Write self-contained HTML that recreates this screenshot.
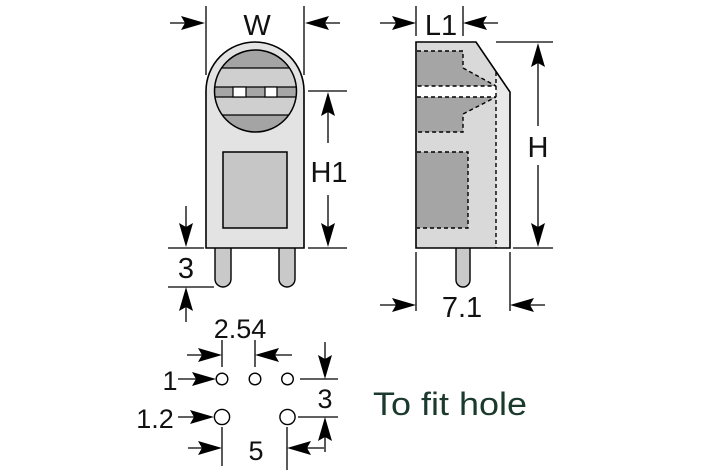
<!DOCTYPE html>
<html><head><meta charset="utf-8"><style>
html,body{margin:0;padding:0;background:#fff;}
svg{display:block;}
text{font-family:"Liberation Sans",sans-serif;fill:#111;}
</style></head><body>
<svg width="709" height="472" viewBox="0 0 709 472" xmlns="http://www.w3.org/2000/svg">
<defs>
<clipPath id="cc"><circle cx="255.5" cy="91" r="41"/></clipPath>
</defs>
<!-- FRONT VIEW -->
<!-- pins -->
<path d="M215,246 L215,279 A8,8 0 0 0 231,279 L231,246 Z" fill="#c9c9c9" stroke="#000" stroke-width="1.4"/>
<path d="M279,246 L279,279 A8,8 0 0 0 295,279 L295,246 Z" fill="#c9c9c9" stroke="#000" stroke-width="1.4"/>
<path d="M206,248 L206,91 A49,49 0 0 1 304,91 L304,248 Z" fill="#e3e3e3" stroke="#000" stroke-width="1.6"/>
<g clip-path="url(#cc)">
<rect x="210" y="45" width="92" height="23" fill="#a4a4a4"/>
<rect x="210" y="68" width="92" height="19" fill="#cfcfcf"/>
<rect x="210" y="87" width="92" height="10" fill="#a6a6a6"/>
<rect x="210" y="97" width="92" height="18" fill="#cfcfcf"/>
<rect x="210" y="115" width="92" height="22" fill="#a4a4a4"/>
<g stroke="#000" stroke-width="1.3">
<line x1="210" y1="68" x2="302" y2="68"/>
<line x1="210" y1="87" x2="302" y2="87"/>
<line x1="210" y1="97" x2="302" y2="97"/>
<line x1="210" y1="115" x2="302" y2="115"/>
</g>
<rect x="233" y="87" width="13" height="10" fill="#fff" stroke="#000" stroke-width="1.2"/>
<rect x="265" y="87" width="12" height="10" fill="#fff" stroke="#000" stroke-width="1.2"/>
</g>
<circle cx="255.5" cy="91" r="41" fill="none" stroke="#000" stroke-width="1.5"/>
<rect x="223" y="152" width="64" height="76" fill="#c6c6c6" stroke="#000" stroke-width="1.5"/>

<!-- SIDE VIEW -->
<path d="M456,246 L456,280 A7,7 0 0 0 470,280 L470,246 Z" fill="#c9c9c9" stroke="#000" stroke-width="1.4"/>
<path d="M416,42 L476,42 L510,92 L510,248 L416,248 Z" fill="#d9d9d9"/>
<polygon points="496,71.4 510,92 510,248 496,248" fill="#e9e9e9"/>
<polygon points="417,51 463,51 463,68 496,86 417,86" fill="#a5a5a5"/>
<rect x="417" y="86" width="79" height="11" fill="#fff"/>
<polygon points="417,97 496,97 463,114 463,132 417,132" fill="#a5a5a5"/>
<rect x="417" y="152" width="51" height="76" fill="#a5a5a5"/>
<g fill="none" stroke="#000" stroke-width="1.4" stroke-dasharray="4 3">
<polyline points="417,51 463,51 463,68 496,86 417,86"/>
<polyline points="417,97 496,97 463,114 463,132 417,132"/>
<polyline points="417,152 468,152 468,228 417,228"/>
<line x1="496" y1="72" x2="496" y2="248"/>
</g>
<path d="M416,42 L476,42 L510,92 L510,248 L416,248 Z" fill="none" stroke="#000" stroke-width="1.6"/>

<!-- DIMENSION LINES -->
<g stroke="#000" stroke-width="1.3" fill="none">
<!-- W -->
<line x1="206" y1="6" x2="206" y2="75"/>
<line x1="304" y1="6" x2="304" y2="75"/>
<line x1="170" y1="23" x2="200" y2="23"/>
<line x1="310" y1="23" x2="340" y2="23"/>
<!-- L1 -->
<line x1="416" y1="6" x2="416" y2="36"/>
<line x1="463" y1="6" x2="463" y2="36"/>
<line x1="380" y1="23" x2="410" y2="23"/>
<line x1="469" y1="23" x2="498" y2="23"/>
<!-- H -->
<line x1="496" y1="42" x2="553" y2="42"/>
<line x1="513" y1="248" x2="553" y2="248"/>
<line x1="538" y1="48" x2="538" y2="126"/>
<line x1="538" y1="165" x2="538" y2="242"/>
<!-- H1 -->
<line x1="308" y1="91" x2="347" y2="91"/>
<line x1="308" y1="248" x2="347" y2="248"/>
<line x1="328" y1="97" x2="328" y2="143"/>
<line x1="328" y1="195" x2="328" y2="242"/>
<!-- 3 left -->
<line x1="168" y1="248" x2="204" y2="248"/>
<line x1="168" y1="287" x2="214" y2="287"/>
<line x1="186" y1="206" x2="186" y2="242"/>
<line x1="186" y1="293" x2="186" y2="322"/>
<!-- 7.1 -->
<line x1="416" y1="252" x2="416" y2="311"/>
<line x1="510" y1="252" x2="510" y2="311"/>
<line x1="380" y1="305" x2="410" y2="305"/>
<line x1="516" y1="305" x2="545" y2="305"/>
<!-- 2.54 -->
<line x1="222" y1="340" x2="222" y2="367"/>
<line x1="255" y1="340" x2="255" y2="367"/>
<line x1="187" y1="355" x2="216" y2="355"/>
<line x1="261" y1="355" x2="292" y2="355"/>
<!-- 1 / 1.2 -->
<line x1="178" y1="379" x2="210" y2="379"/>
<line x1="178" y1="417" x2="208" y2="417"/>
<!-- 3 right -->
<line x1="300" y1="379" x2="338" y2="379"/>
<line x1="298" y1="417" x2="338" y2="417"/>
<line x1="325" y1="342" x2="325" y2="373"/>
<line x1="325" y1="423" x2="325" y2="452"/>
<!-- 5 -->
<line x1="222" y1="427" x2="222" y2="466"/>
<line x1="287" y1="427" x2="287" y2="470"/>
<line x1="188" y1="448" x2="216" y2="448"/>
<line x1="293" y1="448" x2="324" y2="448"/>
</g>

<!-- holes -->
<g fill="#fff" stroke="#000" stroke-width="1.4">
<circle cx="222" cy="379" r="5.8"/>
<circle cx="255" cy="379" r="5.8"/>
<circle cx="287.5" cy="379" r="5.8"/>
<circle cx="222" cy="417" r="7.6"/>
<circle cx="287.5" cy="417" r="7.6"/>
</g>

<!-- arrowheads -->
<g fill="#000">
<!-- right-pointing: tip at (x,y) -->
<polygon points="205,23 181,16 185,23 181,30"/>
<polygon points="416,23 392,16 396,23 392,30"/>
<polygon points="416,305 392,298 396,305 392,312"/>
<polygon points="222,355 198,348 202,355 198,362"/>
<polygon points="216,379 192,372 196,379 192,386"/>
<polygon points="214,417 190,410 194,417 190,424"/>
<polygon points="222,448 198,441 202,448 198,455"/>
<!-- left-pointing -->
<polygon points="305,23 329,16 325,23 329,30"/>
<polygon points="463,23 487,16 483,23 487,30"/>
<polygon points="510,305 534,298 530,305 534,312"/>
<polygon points="255,355 279,348 275,355 279,362"/>
<polygon points="287,448 311,441 307,448 311,455"/>
<!-- up-pointing -->
<polygon points="538,43 531,67 538,63 545,67"/>
<polygon points="328,92 321,116 328,112 335,116"/>
<polygon points="186,287 179,311 186,307 193,311"/>
<polygon points="325,417 318,441 325,437 332,441"/>
<!-- down-pointing -->
<polygon points="538,247 531,223 538,227 545,223"/>
<polygon points="328,247 321,223 328,227 335,223"/>
<polygon points="186,247 179,223 186,227 193,223"/>
<polygon points="325,379 318,355 325,359 332,355"/>
</g>

<!-- labels -->
<g font-size="29" text-anchor="middle">
<text x="257" y="35">W</text>
<text x="441" y="35">L1</text>
<text x="538" y="157">H</text>
<text x="329" y="182">H1</text>
<text x="186" y="278">3</text>
<text x="462" y="317">7.1</text>
<text x="240" y="338" font-size="27">2.54</text>
<text x="170" y="390" font-size="27">1</text>
<text x="155" y="428" font-size="27">1.2</text>
<text x="325" y="408" font-size="27">3</text>
<text x="256" y="460" font-size="27">5</text>
</g>
<text x="373" y="415" font-size="32" textLength="154" lengthAdjust="spacingAndGlyphs" style="fill:#1b3a2d">To fit hole</text>
</svg>
</body></html>
